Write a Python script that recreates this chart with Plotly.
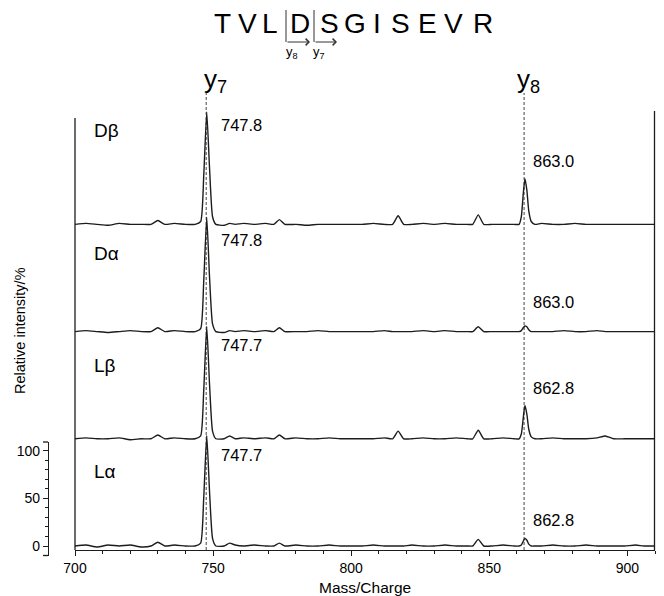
import plotly.graph_objects as go

# ---------------- data ----------------
MZ = [700, 704, 708, 712, 716, 720, 724, 727.5, 730, 732.5, 736, 740, 743.5,
      745.5, 746.6, 747.7, 748.7, 749.8, 751,
      754, 756, 758, 761, 765, 769, 772, 774, 776, 780, 784, 788, 792, 796, 800,
      804, 808, 812, 815, 817, 819, 822, 826, 830, 834, 838, 842, 844, 846, 848, 851, 855, 859,
      860.8, 861.6, 862.3, 862.9, 863.6, 864.3, 865.2, 866.5,
      869, 873, 877, 881, 885, 889, 892, 895, 899, 903, 906, 910]

I_DBETA = [0, 1, 0, -1, 1, 0, 0, 0, 4, 0, 1, 0, 0,
           3, 50, 118, 60, 8, 0,
           -1, 1, 0, 1, 0, 1, 0, 5, 0, 0, -1, 0, 0, 0, 0,
           0, 1, 0, 0, 9, 0, 0, 1, 0, 1, 0, 0, 0, 10, 0, 0, 0, 0,
           0, 8, 32, 48, 36, 14, 3, 0,
           1, 0, 0, 1, 0, 0, 0, 0, 0, 0, 0, 0]
I_DALPHA = [0, 1, 0, -1, 0, 1, 0, 0, 4, 0, 1, 0, 0,
            3, 52, 120, 58, 8, 0,
            -1, 1, 0, 1, 0, 1, 0, 4, 0, 0, 0, 1, 0, 0, 0,
            0, 0, 1, 0, 0, 0, 0, 1, 0, 1, 0, 0, 0, 5, 0, 0, 0, 0,
            0, 1, 4, 6, 5, 2, 0, 0,
            0, 0, 1, 0, 0, 1, 0, 0, 0, 0, 0, 0]
I_LBETA = [0, 1, 0, 0, 1, -1, 0, 0, 4, 0, 1, 0, 0,
           3, 50, 118, 58, 8, 0,
           0, 3, 0, 1, 0, 1, 0, 4, 0, 1, 0, 0, 1, 0, 0,
           0, 0, 1, 0, 8, 0, 0, 1, 0, 0, 1, 0, 0, 9, 0, 0, 1, 0,
           0, 5, 22, 35, 26, 10, 2, 0,
           0, 1, 0, 0, 0, 1, 3, 0, 0, 0, 0, 0]
I_LALPHA = [0, 1, -1, 1, 0, 1, -1, 0, 4, 0, 1, 0, 0,
            3, 50, 116, 58, 8, 0,
            0, 3, 1, 0, 1, 0, 0, 3, 0, 1, 0, 0, 1, 0, 0,
            0, 1, 0, 0, 0, 0, 1, 0, 0, 1, 0, 0, 0, 7, 0, 0, 1, 0,
            0, 1, 5, 8, 6, 2, 0, 0,
            0, 1, 0, 0, 1, 0, 0, 0, 0, 1, 0, 0]

PANEL_NAMES = ["Dβ", "Dα", "Lβ", "Lα"]
Y7_LABELS = ["747.8", "747.8", "747.7", "747.7"]
Y8_LABELS = ["863.0", "863.0", "862.8", "862.8"]
Y7_MZ = 747.5
Y8_MZ = 862.6
SEQUENCE = ["T", "V", "L", "D", "S", "G", "I", "S", "E", "V", "R"]
XTICKS = [700, 750, 800, 850, 900]
YTICKS = [0, 50, 100]

SPECTRA = [I_DBETA, I_DALPHA, I_LBETA, I_LALPHA]
for s in SPECTRA:
    assert len(s) == len(MZ)

# ---------------- layout geometry ----------------
W, H = 664, 596
ML, MR, MT, MB = 48, 9, 108, 40
PW, PH = W - ML - MR, H - MT - MB


def pxx(px):
    return (px - ML) / PW


def pxy(py):
    return (H - MB - py) / PH


OFFSETS = [337.5, 225, 112.5, 0]
Y7_LAB_REL = [104, 96, 98, 95.5]
Y8_LAB_REL = [67, 31, 53, 27]
NAME_REL = [98, 82, 77, 78]
SEQ_PX = [222, 247, 270, 300, 329, 355, 377, 400, 427, 453, 483]

INK = "#1c1c1c"
FONT = "Liberation Sans, Arial, Helvetica, sans-serif"

fig = go.Figure()
for name, vals, off in zip(PANEL_NAMES, SPECTRA, OFFSETS):
    fig.add_trace(go.Scatter(x=MZ, y=[v + off for v in vals], mode="lines",
                             line=dict(color=INK, width=1.4, shape="spline", smoothing=0.5),
                             name=name, showlegend=False, hoverinfo="skip"))

# invisible trace so that the small intensity axis is drawn
fig.add_trace(go.Scatter(x=[800], y=[50], xaxis="x", yaxis="y2", mode="markers",
                         marker=dict(opacity=0), showlegend=False, hoverinfo="skip"))


def ptext(px, py, text, size, **kw):
    d = dict(x=pxx(px), y=pxy(py), xref="paper", yref="paper", text=text,
             showarrow=False, xanchor="center", yanchor="middle",
             font=dict(size=size, color="black"))
    d.update(kw)
    return d


ann = []
for name, off, r7, r8, rn, l7, l8 in zip(PANEL_NAMES, OFFSETS, Y7_LAB_REL, Y8_LAB_REL,
                                         NAME_REL, Y7_LABELS, Y8_LABELS):
    ann.append(dict(x=706, y=off + rn, xref="x", yref="y", text=name, showarrow=False,
                    xanchor="left", yanchor="middle", font=dict(size=19, color="black")))
    ann.append(dict(x=752, y=off + r7, xref="x", yref="y", text=l7, showarrow=False,
                    xanchor="left", yanchor="middle", font=dict(size=16.5, color="black")))
    ann.append(dict(x=865, y=off + r8, xref="x", yref="y", text=l8, showarrow=False,
                    xanchor="left", yanchor="middle", font=dict(size=16.5, color="black")))

# ion labels above the dashed lines
ann.append(ptext(215, 80, "y<sub>7</sub>", 26))
ann.append(ptext(528, 80, "y<sub>8</sub>", 26))

# peptide sequence
for letter, px in zip(SEQUENCE, SEQ_PX):
    ann.append(ptext(px, 23, letter, 28))
ann.append(ptext(292, 53, "y<sub>8</sub>", 13))
ann.append(ptext(319, 53, "y<sub>7</sub>", 13))
for x0, x1 in [(286, 310), (314, 337)]:
    ann.append(dict(x=pxx(x1), y=pxy(42), xref="paper", yref="paper", text="",
                    showarrow=True, ax=-(x1 - x0), ay=0,
                    arrowhead=4, arrowsize=1.3, arrowwidth=1, arrowcolor="#333"))

# axis titles
ann.append(ptext(365, 587, "Mass/Charge", 15.5))
ann.append(ptext(20, 331, "Relative intensity/%", 14.5, textangle=-90))

shapes = []
# bracket lines in the sequence
for xv in [286, 314]:
    shapes.append(dict(type="line", xref="paper", yref="paper", x0=pxx(xv), x1=pxx(xv),
                       y0=pxy(10), y1=pxy(42), line=dict(color="#333", width=1)))
# dashed ion lines
for xv in [Y7_MZ, Y8_MZ]:
    shapes.append(dict(type="line", xref="x", yref="paper", x0=xv, x1=xv,
                       y0=pxy(550), y1=pxy(93), layer="below",
                       line=dict(color="#444", width=1, dash="3px,2px")))
# frame: left and right spines
shapes.append(dict(type="line", xref="paper", yref="paper", x0=pxx(75), x1=pxx(75),
                   y0=pxy(550), y1=pxy(118), line=dict(color=INK, width=1.3)))
shapes.append(dict(type="line", xref="paper", yref="paper", x0=pxx(654.5), x1=pxx(654.5),
                   y0=pxy(550), y1=pxy(111), line=dict(color=INK, width=1.3)))
# end caps of the small intensity axis
for yv in [pxy(442), pxy(555.5)]:
    shapes.append(dict(type="line", xref="paper", yref="paper", x0=pxx(43), x1=pxx(48),
                       y0=yv, y1=yv, line=dict(color=INK, width=1.3)))

y_lo = -(H - MB - 546) / 0.953
y_hi = (546 - MT) / 0.953

fig.update_layout(
    width=W, height=H, margin=dict(l=ML, r=MR, t=MT, b=MB),
    paper_bgcolor="white", plot_bgcolor="rgba(0,0,0,0)",
    font=dict(family=FONT, color="black"),
    xaxis=dict(domain=[pxx(75), 1], range=[700, 910], anchor="free", position=pxy(550),
               showline=True, linecolor=INK, linewidth=1.3, ticks="outside", ticklen=5,
               tickcolor=INK, tickvals=XTICKS, tickfont=dict(size=14),
               minor=dict(ticks="outside", ticklen=3, dtick=10, tick0=700, tickcolor=INK),
               showgrid=False, zeroline=False),
    yaxis=dict(range=[y_lo, y_hi], visible=False, showgrid=False, zeroline=False),
    yaxis2=dict(domain=[0, pxy(442)], range=[y_lo, (546 - 442) / 0.953], anchor="free",
                position=0, side="left", showline=True, linecolor=INK, linewidth=1.3,
                ticks="outside", ticklen=5, tickcolor=INK, tickvals=YTICKS,
                tickfont=dict(size=14),
                minor=dict(ticks="outside", ticklen=3, dtick=10, tick0=0, tickcolor=INK),
                showgrid=False, zeroline=False),
    annotations=ann, shapes=shapes,
)

fig.write_html("out.html")
